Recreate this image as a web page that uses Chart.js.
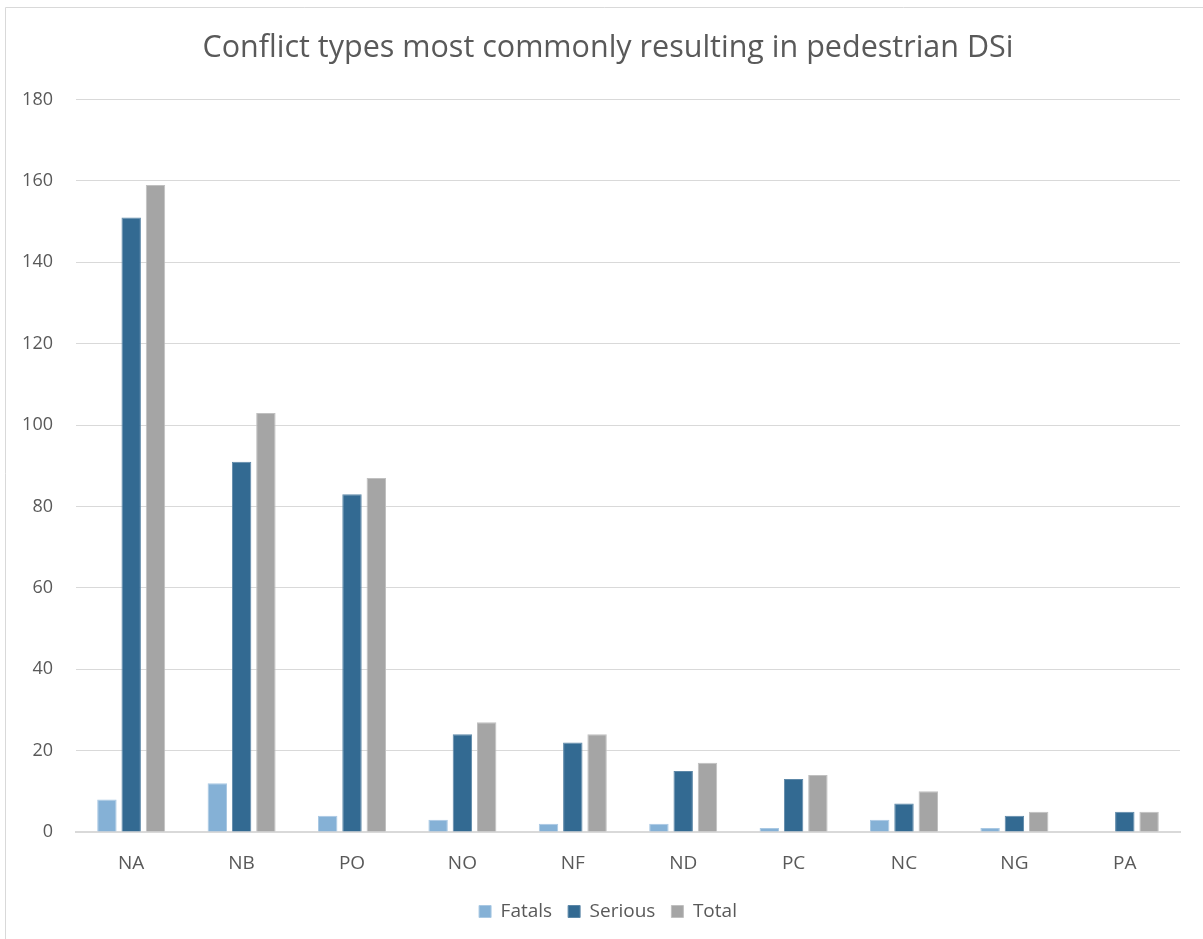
<!DOCTYPE html>
<html>
<head>
<meta charset="utf-8">
<script src="https://cdn.jsdelivr.net/npm/chart.js@4/dist/chart.umd.min.js"></script>
<style>
  html, body { margin: 0; padding: 0; background: #ffffff; }
  #wrap { width: 1203px; height: 939px; position: relative; }
</style>
</head>
<body>
<div id="wrap"><canvas id="chart" width="1203" height="939"></canvas></div>
<script>
// Conflict type codes and DSi counts
const categories = ['NA', 'NB', 'PO', 'NO', 'NF', 'ND', 'PC', 'NC', 'NG', 'PA'];
const fatals  = [8, 12, 4, 3, 2, 2, 1, 3, 1, 0];
const serious = [151, 91, 83, 24, 22, 15, 13, 7, 4, 5];
const total   = [159, 103, 87, 27, 24, 17, 14, 10, 5, 5];
const yTicks  = [0, 20, 40, 60, 80, 100, 120, 140, 160, 180];

const FONT = '"Open Sans", "Liberation Sans", sans-serif';
const TEXT = '#595959';

// Thin frame round the chart area
const framePlugin = {
  id: 'frame',
  beforeDraw(chart) {
    const ctx = chart.ctx;
    ctx.save();
    ctx.strokeStyle = '#d9d9d9';
    ctx.lineWidth = 1;
    ctx.beginPath();
    ctx.moveTo(5.5, 939);
    ctx.lineTo(5.5, 7.5);
    ctx.lineTo(1203, 7.5);
    ctx.stroke();
    ctx.restore();
  }
};

new Chart(document.getElementById('chart'), {
  type: 'bar',
  data: {
    labels: categories,
    datasets: [
      { label: 'Fatals',  data: fatals,  backgroundColor: '#85b1d6', borderColor: '#a9c8e3', borderWidth: 1 },
      { label: 'Serious', data: serious, backgroundColor: '#336a92', borderColor: '#5d88a8', borderWidth: 1 },
      { label: 'Total',   data: total,   backgroundColor: '#a5a5a5', borderColor: '#c0c0c0', borderWidth: 1 }
    ]
  },
  options: {
    responsive: false,
    animation: false,
    devicePixelRatio: 1,
    categoryPercentage: 0.66,
    barPercentage: 0.8,
    layout: { padding: { left: 18, right: 5, top: 14, bottom: 8 } },
    plugins: {
      title: {
        display: true,
        text: 'Conflict types most commonly resulting in pedestrian DSi',
        color: TEXT,
        font: { family: FONT, size: 30.5, weight: 'normal' },
        padding: { top: 16, bottom: 33 }
      },
      legend: {
        position: 'bottom',
        labels: {
          color: TEXT,
          font: { family: FONT, size: 19 },
          boxWidth: 12,
          boxHeight: 12,
          padding: 16
        }
      },
      tooltip: { enabled: false }
    },
    scales: {
      x: {
        afterFit(axis) { axis.height = 54; },
        grid: { display: false, drawTicks: false },
        border: { color: '#d9d9d9', width: 2 },
        ticks: { color: TEXT, font: { family: FONT, size: 19 }, padding: 20 }
      },
      y: {
        min: 0,
        max: 180,
        afterBuildTicks(axis) { axis.ticks = yTicks.map(v => ({ value: v })); },
        afterFit(axis) { axis.width = 58; },
        grid: { color: '#d9d9d9', drawTicks: false, lineWidth: 1 },
        border: { display: false },
        ticks: { color: TEXT, font: { family: FONT, size: 18 }, padding: 23 }
      },
      // empty right-hand margin axis, keeps space beside the plot
      yRight: {
        type: 'linear',
        position: 'right',
        afterFit(axis) { axis.width = 18; },
        grid: { display: false, drawTicks: false },
        border: { display: false },
        ticks: { display: false }
      }
    }
  },
  plugins: [framePlugin]
});
</script>
</body>
</html>
